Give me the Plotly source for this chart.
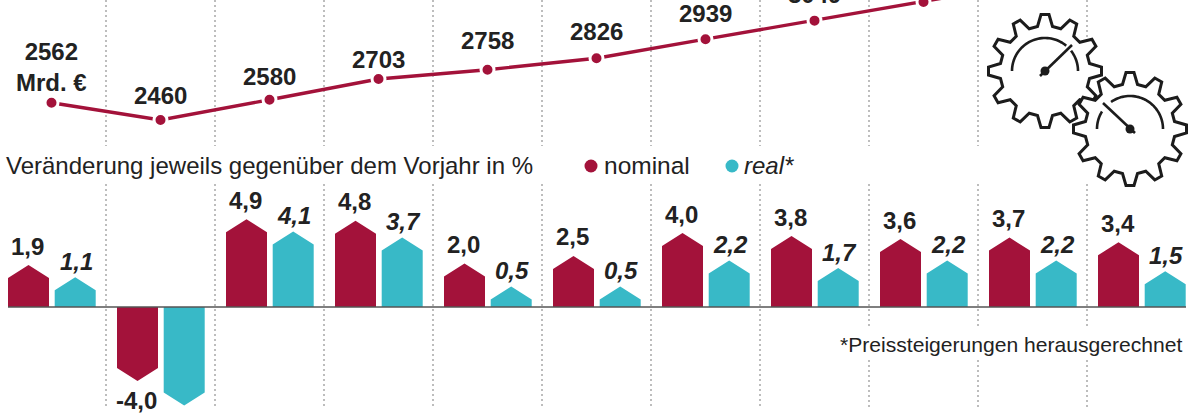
import math
import plotly.graph_objects as go

W, H = 1192, 416

# ---- data ----
gdp_values = [2562, 2460, 2580, 2703, 2758, 2826, 2939, 3049, 3159, 3276, 3387]
nominal_growth = [1.9, -4.0, 4.9, 4.8, 2.0, 2.5, 4.0, 3.8, 3.6, 3.7, 3.4]
real_growth = [1.1, -5.6, 4.1, 3.7, 0.5, 0.5, 2.2, 1.7, 2.2, 2.2, 1.5]
gdp_labels = ["2562<br>Mrd. €", "2460", "2580", "2703", "2758", "2826", "2939", "3049"]
nominal_labels = ["1,9", "-4,0", "4,9", "4,8", "2,0", "2,5", "4,0", "3,8", "3,6", "3,7", "3,4"]
real_labels = ["1,1", "", "4,1", "3,7", "0,5", "0,5", "2,2", "1,7", "2,2", "2,2", "1,5"]

# ---- style / layout ----
RED = "#A3123A"
TEAL = "#38B9C7"
INK = "#222222"
FONT = "Liberation Sans"
STEP = 109.0            # px per year
X0 = 51.5               # px of first year
GDP_ZERO_PX, GDP_REF, GDP_PX = 120.0, 2460, 0.1687
BAR_ZERO_PX, BAR_PX = 307.0, 15.25
OFFSET_NOM = 23 / STEP
OFFSET_REAL = 23.7 / STEP
HALF = 20.5 / STEP
TIP = 13 / BAR_PX
gdp_label_shift = [0, 25, 23, 20, 29, 27, 26, 26]

years = list(range(len(gdp_values)))


def px(x, y):
    return x / W, 1 - y / H


def path(points, close=False):
    s = "M" + " L".join("%.5f,%.5f" % px(*p) for p in points)
    return s + (" Z" if close else "")


def pentagons(values, offset):
    xs, ys = [], []
    for i, v in enumerate(values):
        c = i + offset
        sign = 1 if v >= 0 else -1
        xs += [c - HALF, c - HALF, c, c + HALF, c + HALF, c - HALF, None]
        ys += [0, v, v + sign * TIP, v, 0, 0, None]
    return xs, ys


fig = go.Figure()

for vals, off, col, name in [(nominal_growth, -OFFSET_NOM, RED, "nominal"),
                             (real_growth, OFFSET_REAL, TEAL, "real*")]:
    xs, ys = pentagons(vals, off)
    fig.add_trace(go.Scatter(x=xs, y=ys, yaxis="y2", mode="lines", fill="toself",
                             fillcolor=col, line=dict(width=0, color=col),
                             name=name, hoverinfo="skip"))

fig.add_trace(go.Scatter(x=years, y=gdp_values, mode="lines+markers", name="BIP",
                         line=dict(color=RED, width=3.4),
                         marker=dict(color=RED, size=13, line=dict(color="white", width=3))))

ann = []
for i, t in enumerate(gdp_labels):
    ann.append(dict(x=i, y=gdp_values[i], xref="x", yref="y", text="<b>%s</b>" % t,
                    showarrow=False, yanchor="middle" if i else "bottom",
                    yshift=gdp_label_shift[i] if i else 5, xshift=-0.5,
                    font=dict(family=FONT, size=24, color=INK)))

for i, t in enumerate(nominal_labels):
    v = nominal_growth[i]
    s = 1 if v >= 0 else -1
    ann.append(dict(x=i - OFFSET_NOM, y=v + s * TIP, xref="x", yref="y2", text="<b>%s</b>" % t,
                    showarrow=False, yanchor="middle", yshift=s * 19, xshift=-1,
                    font=dict(family=FONT, size=24, color=INK)))
for i, t in enumerate(real_labels):
    if not t:
        continue
    v = real_growth[i]
    ann.append(dict(x=i + OFFSET_REAL, y=v + TIP, xref="x", yref="y2", text="<b><i>%s</i></b>" % t,
                    showarrow=False, yanchor="middle", yshift=16, xshift=1,
                    font=dict(family=FONT, size=24, color=INK)))


def note(x, y, text, size, anchor="left"):
    ann.append(dict(x=x / W, y=1 - y / H, xref="paper", yref="paper", text=text, showarrow=False,
                    xanchor=anchor, yanchor="middle", xshift=0,
                    font=dict(family=FONT, size=size, color=INK), borderpad=0, borderwidth=0))


note(6, 165.5, "Veränderung jeweils gegenüber dem Vorjahr in %", 24)
note(604, 165.5, "nominal", 24.5)
note(744, 165.5, "<i>real*</i>", 24)
note(840, 344.5, "*Preissteigerungen herausgerechnet", 21.1)

# ---- shapes ----
shapes = []
for k in range(10):
    x = X0 + STEP * (k + 0.5)
    segs = [(0, 146), (184, 328), (360, 408)] if k >= 7 else [(0, 146), (184, 408)]
    for a, b in segs:
        shapes.append(dict(type="line", xref="paper", yref="paper", x0=x / W, x1=x / W,
                           y0=1 - a / H, y1=1 - b / H, layer="below",
                           line=dict(color="#BDBDBD", width=2, dash="2px,3px")))

# baseline
shapes.append(dict(type="line", xref="paper", yref="y2", x0=8 / W, x1=1186 / W, y0=0, y1=0,
                   layer="above", line=dict(color="#555555", width=1.5)))

# legend dots
for cx, col in [(591, RED), (732, TEAL)]:
    x0, y0 = px(cx - 6.5, 166 - 6.5)
    x1, y1 = px(cx + 6.5, 166 + 6.5)
    shapes.append(dict(type="circle", xref="paper", yref="paper", x0=x0, x1=x1, y0=y0, y1=y1,
                       fillcolor=col, line=dict(width=0)))


def gear_outline(cx, cy, R=56.5, r=44.5, tip=4, base=7.5, teeth=12):
    pts = []
    for n in range(teeth):
        a = math.radians(90 - n * 360 / teeth)
        ux, uy = math.cos(a), -math.sin(a)
        vx, vy = -uy, ux
        pts.append((cx + ux * r - vx * base, cy + uy * r - vy * base))
        pts.append((cx + ux * R - vx * tip, cy + uy * R - vy * tip))
        pts.append((cx + ux * R + vx * tip, cy + uy * R + vy * tip))
        pts.append((cx + ux * r + vx * base, cy + uy * r + vy * base))
    return pts


def arc(cx, cy, r, a0, a1, n=40):
    return [(cx + r * math.cos(math.radians(a0 + (a1 - a0) * i / n)),
             cy - r * math.sin(math.radians(a0 + (a1 - a0) * i / n))) for i in range(n + 1)]


def gear(cx, cy, arcs, needle):
    shapes.append(dict(type="path", xref="paper", yref="paper", layer="above",
                       path=path(gear_outline(cx, cy), True), fillcolor="white",
                       line=dict(color="#1c1c1c", width=3)))
    for a0, a1 in arcs:
        shapes.append(dict(type="path", xref="paper", yref="paper", layer="above",
                           path=path(arc(cx, cy, 33, a0, a1)),
                           line=dict(color="#1c1c1c", width=2.6)))
    shapes.append(dict(type="path", xref="paper", yref="paper", layer="above",
                       path=path(needle), line=dict(color="#1c1c1c", width=2.6)))
    x0, y0 = px(cx - 4.5, cy - 4.5)
    x1, y1 = px(cx + 4.5, cy + 4.5)
    shapes.append(dict(type="circle", xref="paper", yref="paper", layer="above",
                       x0=x0, x1=x1, y0=y0, y1=y1, fillcolor="#1c1c1c", line=dict(width=0)))


gear(1045, 71, [(180, 50), (38, 0)], [(1040, 76), (1072, 45)])
gear(1130, 129, [(180, 148), (125, 0)], [(1135, 133), (1103, 103)])

fig.update_layout(
    width=W, height=H, autosize=False, showlegend=False,
    margin=dict(l=0, r=0, t=0, b=0, pad=0),
    paper_bgcolor="white", plot_bgcolor="white",
    xaxis=dict(range=[-X0 / STEP, (W - X0) / STEP], visible=False, domain=[0, 1]),
    yaxis=dict(range=[GDP_REF - (H - GDP_ZERO_PX) / GDP_PX, GDP_REF + GDP_ZERO_PX / GDP_PX],
               visible=False, domain=[0, 1]),
    yaxis2=dict(range=[-(H - BAR_ZERO_PX) / BAR_PX, BAR_ZERO_PX / BAR_PX], visible=False,
                domain=[0, 1], overlaying="y"),
    annotations=ann, shapes=shapes,
    font=dict(family=FONT),
)

fig.write_html("out.html", config={"displayModeBar": False},
               post_script="document.body.style.margin='0';document.body.style.overflow='hidden';")
